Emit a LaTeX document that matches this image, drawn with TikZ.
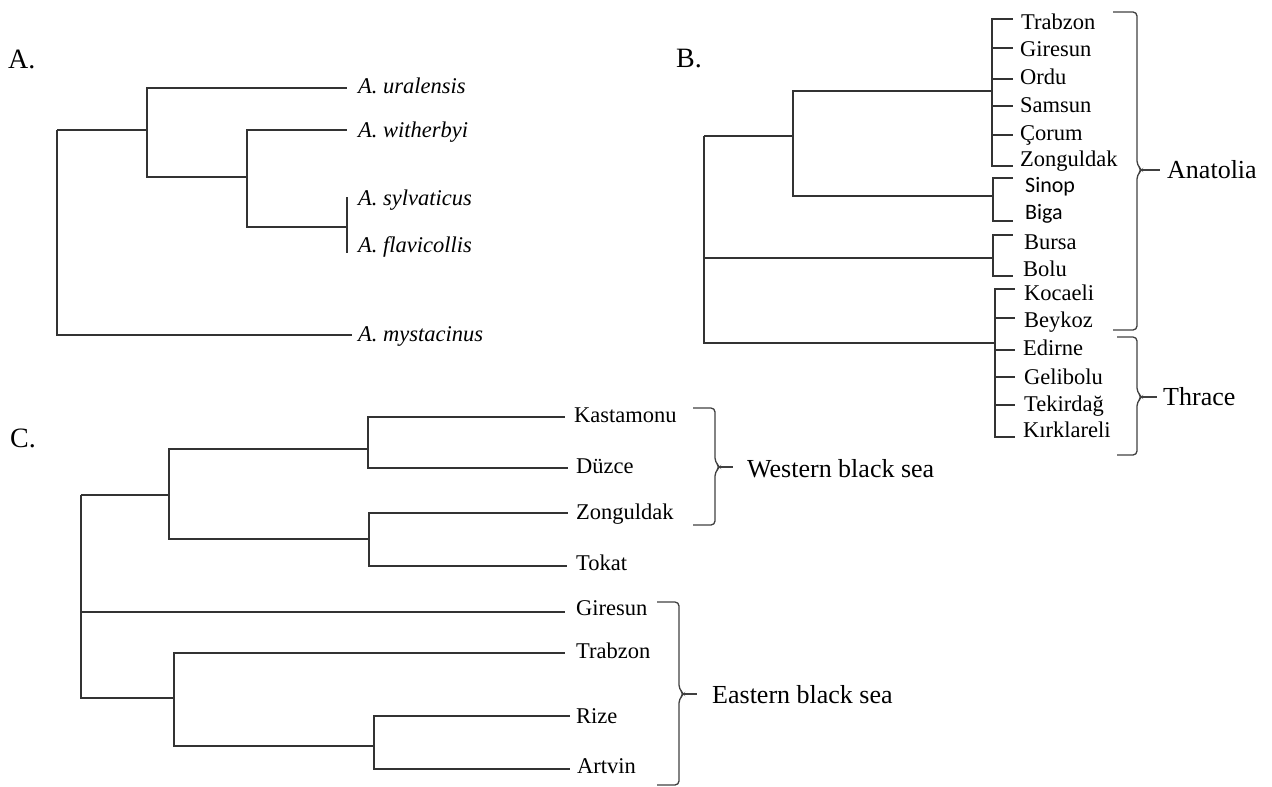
\documentclass[tikz,border=0pt]{standalone}
\usepackage{fontspec}
\setmainfont{Liberation Serif}
\newfontfamily\sanslabel{Carlito}
\begin{document}
\begin{tikzpicture}[x=1pt,y=-1pt,
  branch/.style={line width=1.5pt, draw=black!80},
  curly/.style={line width=1.3pt, draw=black!75, rounded corners=4pt},
  leaf/.style={anchor=base west, inner sep=0pt, font=\fontsize{22.5}{27}\selectfont},
  leafit/.style={anchor=base west, inner sep=0pt, font=\fontsize{22.5}{27}\selectfont\itshape},
  leafsans/.style={anchor=base west, inner sep=0pt, font=\sanslabel\fontsize{22}{26}\selectfont},
  group/.style={anchor=base west, inner sep=0pt, font=\fontsize{26}{31}\selectfont},
  panel/.style={anchor=base west, inner sep=0pt, font=\fontsize{28}{33}\selectfont}]
\useasboundingbox (0,0) rectangle (1272,787);

% ---------------- Panel A: Apodemus species ----------------
\node[panel] (labA) at (8,68) {A.};
\coordinate (a0) at (57,130);
\coordinate (a1) at (147,130);
\coordinate (a2) at (247,177);
\coordinate (a3) at (347,227);
\coordinate (tA1) at (347,88);
\coordinate (tA2) at (347,130);
\coordinate (tA3) at (347,197);
\coordinate (tA4) at (347,253);
\coordinate (tA5) at (352,335);
\node[leafit] (ural) at (358,93)  {A. uralensis};
\node[leafit] (with) at (358,137) {A. witherbyi};
\node[leafit] (sylv) at (358,205) {A. sylvaticus};
\node[leafit] (flav) at (358,252) {A. flavicollis};
\node[leafit] (myst) at (358,341) {A. mystacinus};
\draw[branch] (a0) |- (a1);
\draw[branch] (a0) |- (tA5);
\draw[branch] (a1) |- (tA1);
\draw[branch] (a1) |- (a2);
\draw[branch] (a2) |- (tA2);
\draw[branch] (a2) |- (a3);
\draw[branch] (a3) |- (tA3);
\draw[branch] (a3) |- (tA4);

% ---------------- Panel B: Anatolia and Thrace ----------------
\node[panel] (labB) at (676,67) {B.};
\coordinate (b0) at (704,136);
\coordinate (b1) at (793,136);
\coordinate (b4) at (992,91);
\coordinate (b5) at (993,196);
\coordinate (b2) at (993,258);
\coordinate (b3) at (995,343);
% leaf tips
\coordinate (tB1) at (1013,19);
\coordinate (tB2) at (1013,48);
\coordinate (tB3) at (1013,79);
\coordinate (tB4) at (1013,106);
\coordinate (tB5) at (1013,135);
\coordinate (tB6) at (1013,166);
\coordinate (tB7) at (1013,178);
\coordinate (tB8) at (1013,221);
\coordinate (tB9) at (1013,235);
\coordinate (tB10) at (1013,276);
\coordinate (tB11) at (1015,289);
\coordinate (tB12) at (1015,318);
\coordinate (tB13) at (1015,350);
\coordinate (tB14) at (1015,377);
\coordinate (tB15) at (1015,405);
\coordinate (tB16) at (1015,437);
\node[leaf] (trabB) at (1021,29)  {Trabzon};
\node[leaf] (gireB) at (1020,56)  {Giresun};
\node[leaf] (orduB) at (1020,84)  {Ordu};
\node[leaf] (samsB) at (1020,112) {Samsun};
\node[leaf] (coruB) at (1020,140) {Çorum};
\node[leaf] (zongB) at (1020,166) {Zonguldak};
\node[leafsans] (sinoB) at (1025,192) {Sinop};
\node[leafsans] (bigaB) at (1025,219) {Biga};
\node[leaf] (bursB) at (1024,249) {Bursa};
\node[leaf] (boluB) at (1023,276) {Bolu};
\node[leaf] (kocaB) at (1024,300) {Kocaeli};
\node[leaf] (beykB) at (1024,327) {Beykoz};
\node[leaf] (edirB) at (1023,355) {Edirne};
\node[leaf] (geliB) at (1024,384) {Gelibolu};
\node[leaf] (tekiB) at (1024,411) {Tekirdağ};
\node[leaf] (kirkB) at (1023,437) {Kırklareli};
\draw[branch] (b0) -- (b1);
\draw[branch] (b0) |- (b2);
\draw[branch] (b0) |- (b3);
\draw[branch] (b1) |- (b4);
\draw[branch] (b1) |- (b5);
\foreach \t in {tB1,tB2,tB3,tB4,tB5,tB6} \draw[branch] (b4) |- (\t);
\foreach \t in {tB7,tB8} \draw[branch] (b5) |- (\t);
\foreach \t in {tB9,tB10} \draw[branch] (b2) |- (\t);
\foreach \t in {tB11,tB12,tB13,tB14,tB15,tB16} \draw[branch] (b3) |- (\t);
% region brackets
\draw[curly] (1113,12) -- (1137,12) -- (1137,165) -- (1142,170) -- (1137,175) -- (1137,330) -- (1113,330);
\draw[curly] (1141,170) -- (1160,170);
\node[group] (anat) at (1167,178) {Anatolia};
\draw[curly] (1117,337) -- (1137,337) -- (1137,392) -- (1142,397) -- (1137,402) -- (1137,455) -- (1117,455);
\draw[curly] (1141,397) -- (1157,397);
\node[group] (thra) at (1163,405) {Thrace};

% ---------------- Panel C: Black Sea region ----------------
\node[panel] (labC) at (10,447) {C.};
\coordinate (c0) at (81,495);
\coordinate (c1) at (169,495);
\coordinate (c2) at (174,698);
\coordinate (c3) at (368,449);
\coordinate (c4) at (369,539);
\coordinate (c5) at (374,746);
\coordinate (tC1) at (565,417);
\coordinate (tC2) at (568,468);
\coordinate (tC3) at (568,513);
\coordinate (tC4) at (567,566);
\coordinate (tC5) at (565,612);
\coordinate (tC6) at (565,653);
\coordinate (tC7) at (570,716);
\coordinate (tC8) at (570,769);
\node[leaf] (kastC) at (574,422) {Kastamonu};
\node[leaf] (duzcC) at (576,473) {Düzce};
\node[leaf] (zongC) at (576,519) {Zonguldak};
\node[leaf] (tokaC) at (576,570) {Tokat};
\node[leaf] (gireC) at (576,615) {Giresun};
\node[leaf] (trabC) at (576,658) {Trabzon};
\node[leaf] (rizeC) at (576,723) {Rize};
\node[leaf] (artvC) at (577,773) {Artvin};
\draw[branch] (c0) |- (c1);
\draw[branch] (c0) |- (tC5);
\draw[branch] (c0) |- (c2);
\draw[branch] (c1) |- (c3);
\draw[branch] (c1) |- (c4);
\draw[branch] (c3) |- (tC1);
\draw[branch] (c3) |- (tC2);
\draw[branch] (c4) |- (tC3);
\draw[branch] (c4) |- (tC4);
\draw[branch] (c2) |- (tC6);
\draw[branch] (c2) |- (c5);
\draw[branch] (c5) |- (tC7);
\draw[branch] (c5) |- (tC8);
% region brackets
\draw[curly] (693,408) -- (715,408) -- (715,462) -- (720,467) -- (715,472) -- (715,525) -- (693,525);
\draw[curly] (719,467) -- (733,467);
\node[group] (west) at (747,477) {Western black sea};
\draw[curly] (657,602) -- (679,602) -- (679,689) -- (684,694) -- (679,699) -- (679,785) -- (657,785);
\draw[curly] (683,694) -- (697,694);
\node[group] (east) at (712,703) {Eastern black sea};
\end{tikzpicture}
\end{document}
